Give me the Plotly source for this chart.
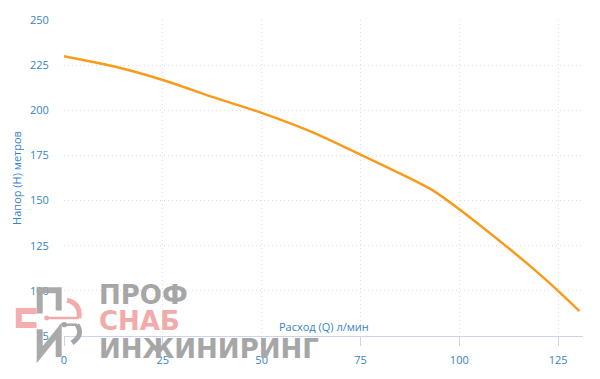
import plotly.graph_objects as go

# ---- data ----
flow_q = [0, 12.5, 25, 37.5, 50, 62.5, 75, 85, 93.5, 100, 112, 118.7, 125, 130.4]
head_h = [230, 224.4, 216.8, 207.4, 198.6, 188.2, 175.5, 165.0, 155.4, 145.2, 124.5, 112.3, 100, 88.8]
x_ticks = [0, 25, 50, 75, 100, 125]
y_ticks = [75, 100, 125, 150, 175, 200, 225, 250]
x_title = "Расход (Q) л/мин"
y_title = "Напор (H) метров"
logo_lines = ["ПРОФ", "СНАБ", "ИНЖИНИРИНГ"]

W, H = 600, 379
ML, MR, MT, MB = 64, 17, 15, 42
PW, PH = W - ML - MR, H - MT - MB

def px(x):
    return (x - ML) / PW

def py(y):
    return (MT + PH - y) / PH

def path(points, closed=False):
    s = ""
    for i, (x, y) in enumerate(points):
        s += ("M" if i == 0 else "L") + f"{px(x):.5f},{py(y):.5f} "
    if closed:
        s += "Z"
    return s

def qpath(p0, c, p1):
    return (f"M{px(p0[0]):.5f},{py(p0[1]):.5f} Q{px(c[0]):.5f},{py(c[1]):.5f} "
            f"{px(p1[0]):.5f},{py(p1[1]):.5f}")

BLUE = "#3583c9"
GRAY = "#a6a6a6"
PINK = "#f3aaaa"
FONT = "Open Sans"
GRID = "#dedede"

fig = go.Figure()
fig.add_trace(go.Scatter(
    x=flow_q, y=head_h, mode="lines",
    line=dict(color="#f99b1a", width=2.5, shape="spline", smoothing=0.8),
    hoverinfo="skip", showlegend=False,
))

shapes = []
# logo: gray П
shapes.append(dict(type="path", xref="paper", yref="paper", layer="above",
                   path=path([(39.7, 314), (39.7, 290.5), (58.7, 290.5), (58.7, 311)]),
                   line=dict(color=GRAY, width=6), opacity=0.95))
# pink C
shapes.append(dict(type="path", xref="paper", yref="paper", layer="above",
                   path=path([(36.5, 311.5), (18.8, 311.5), (18.8, 325.8), (36.5, 325.8)]),
                   line=dict(color=PINK, width=6), opacity=0.95))
# pink line + dot + arc
shapes.append(dict(type="path", xref="paper", yref="paper", layer="above",
                   path=path([(46.7, 318.7), (79, 318.7)]),
                   line=dict(color=PINK, width=2.5)))
shapes.append(dict(type="circle", xref="paper", yref="paper", layer="above",
                   x0=px(44.2), x1=px(49.2), y0=py(321.2), y1=py(316.2),
                   fillcolor=PINK, line=dict(width=0)))
shapes.append(dict(type="path", xref="paper", yref="paper", layer="above",
                   path=qpath((79, 318.7), (81, 304), (67, 300.5)),
                   line=dict(color=PINK, width=5)))
# gray line + dot + arc
shapes.append(dict(type="path", xref="paper", yref="paper", layer="above",
                   path=path([(64.3, 325.5), (77, 325.5)]),
                   line=dict(color=GRAY, width=2.5)))
shapes.append(dict(type="circle", xref="paper", yref="paper", layer="above",
                   x0=px(61.6), x1=px(67), y0=py(328.2), y1=py(322.8),
                   fillcolor=GRAY, line=dict(width=0)))
shapes.append(dict(type="path", xref="paper", yref="paper", layer="above",
                   path=qpath((77, 325.5), (84, 336), (72, 344)),
                   line=dict(color=GRAY, width=5)))
# gray И
shapes.append(dict(type="path", xref="paper", yref="paper", layer="above",
                   path=path([(39.7, 330), (39.7, 356), (58.7, 332), (58.7, 358.5)]),
                   line=dict(color=GRAY, width=6), opacity=0.95))

annotations = [
    dict(text=x_title, xref="paper", yref="paper", x=0.5, y=py(327),
         xanchor="center", yanchor="middle", showarrow=False,
         font=dict(family=FONT, size=11, color=BLUE)),
]
logo_pos = [(295.5, GRAY), (322, PINK), (350.5, GRAY)]
for txt, (yy, col) in zip(logo_lines, logo_pos):
    annotations.append(dict(text=f"<b>{txt}</b>", xref="paper", yref="paper",
                            x=px(97), y=py(yy), xanchor="left", yanchor="middle",
                            showarrow=False,
                            font=dict(family="DejaVu Sans", size=26, color=col)))

fig.update_layout(
    width=W, height=H,
    margin=dict(l=ML, r=MR, t=MT, b=MB),
    paper_bgcolor="white", plot_bgcolor="white",
    font=dict(family=FONT, size=11, color=BLUE),
    shapes=shapes, annotations=annotations,
    xaxis=dict(range=[0, 131.3], tickvals=x_ticks, ticks="outside", ticklen=9,
               tickcolor="#ccd6eb", tickwidth=1, ticklabelstandoff=5,
               showline=True, linecolor="#ccd6eb", linewidth=1,
               showgrid=True, gridcolor=GRID, griddash="1px,3px", gridwidth=1,
               zeroline=False, tickfont=dict(family=FONT, size=11, color=BLUE)),
    yaxis=dict(range=[75, 250], tickvals=y_ticks, ticks="outside", ticklen=12,
               tickcolor="rgba(0,0,0,0)",
               showline=False, showgrid=True, gridcolor=GRID, griddash="1px,3px",
               gridwidth=1, zeroline=False,
               title=dict(text=y_title, standoff=6,
                          font=dict(family=FONT, size=11, color=BLUE)),
               tickfont=dict(family=FONT, size=11, color=BLUE)),
)

fig.write_html("out.html")
